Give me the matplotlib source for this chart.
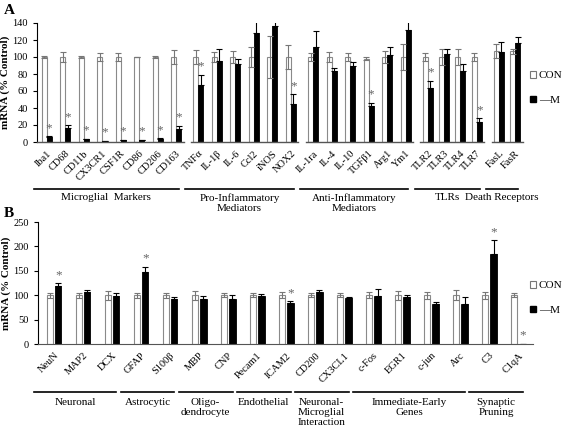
import numpy as np
import matplotlib
matplotlib.use("Agg")
import matplotlib.pyplot as plt
from matplotlib import transforms
from matplotlib.patches import Patch

plt.rcParams['font.family'] = ['Liberation Serif', 'DejaVu Serif']

# ---- panel A data
genes_a = ["Iba1", "CD68", "CD11b", "CX3CR1", "CSF1R", "CD86", "CD206", "CD163",
           "TNFα", "IL-1β", "IL-6", "Ccl2", "iNOS", "NOX2",
           "IL-1ra", "IL-4", "IL-10", "TGFβ1", "Arg1", "Ym1",
           "TLR2", "TLR3", "TLR4", "TLR7",
           "FasL", "FasR"]
groups_a = ["Microglial  Markers", "Pro-Inflammatory\nMediators", "Anti-Inflammatory\nMediators",
            "TLRs", "Death Receptors"]
group_sizes_a = [8, 6, 6, 4, 2]
con_a = [100, 100, 100, 100, 100, 100, 100, 100,
         100, 100, 100, 100, 100, 100,
         100, 100, 100, 98, 100, 100,
         100, 100, 100, 100,
         107, 107]
con_err_a = [1, 6, 1, 5, 5, 0.5, 1, 8,
             8, 6, 7, 12, 25, 14,
             5, 6, 5, 2, 7, 15,
             5, 9, 9, 5,
             8, 3]
m_a = [6, 17, 3, 1, 2, 2, 4, 15,
       67, 95, 92, 128, 136, 45,
       112, 83, 90, 42, 102, 132,
       64, 104, 83, 24,
       106, 116]
m_err_a = [0.5, 3, 1, 0.3, 0.5, 0.5, 0.5, 4,
           12, 14, 6, 28, 29, 11,
           19, 4, 4, 4, 10, 31,
           8, 5, 9, 4,
           12, 7]
sig_a = ["Iba1", "CD68", "CD11b", "CX3CR1", "CSF1R", "CD86", "CD206", "CD163",
         "TNFα", "NOX2", "TGFβ1", "TLR2", "TLR7"]

# ---- panel B data
genes_b = ["NeuN", "MAP2", "DCX", "GFAP", "S100β", "MBP", "CNP", "Pecam1", "ICAM2",
           "CD200", "CX3CL1", "c-Fos", "EGR1", "c-jun", "Arc", "C3", "C1qA"]
groups_b = ["Neuronal", "Astrocytic", "Oligo-\ndendrocyte", "Endothelial",
            "Neuronal-\nMicroglial\nInteraction", "Immediate-Early\nGenes", "Synaptic\nPruning"]
group_sizes_b = [3, 2, 2, 2, 2, 4, 2]
con_b = [100] * 17
con_err_b = [5, 5, 9, 5, 5, 9, 3.5, 3.5, 6, 4, 3.5, 6, 9, 7.5, 10, 7.5, 4]
m_b = [119, 107, 98, 148, 92, 92, 92, 98, 83, 106, 94, 99, 97, 81, 81, 184, 1]
m_err_b = [5, 4, 6, 10, 5, 6, 8, 4, 5, 5, 3, 14, 4, 5.5, 16, 29, 0]
sig_b = ["NeuN", "GFAP", "ICAM2", "C3", "C1qA"]

W, H = 567, 434
fig = plt.figure(figsize=(W / 100, H / 100), dpi=100)


def positions(sizes, scales, gap):
    pos = []
    for n, s in zip(sizes, scales):
        x = (pos[-1] + gap) if pos else 0
        for j in range(n):
            pos.append(x + j * s)
    return np.array(pos)


def draw_panel(ax, pos, genes, con, con_err, m, m_err, sig, width, off, fs_tick):
    ax.bar(pos - off, con, width, color='white', edgecolor='#8a8a8a', linewidth=0.8,
           yerr=con_err, error_kw=dict(ecolor='#777777', elinewidth=0.8, capsize=2.5, capthick=0.8),
           zorder=2)
    ax.bar(pos + off, m, width, color='black', edgecolor='black', linewidth=0.6,
           yerr=[np.zeros(len(m)), m_err], error_kw=dict(ecolor='black', elinewidth=0.8, capsize=2.5, capthick=0.8),
           zorder=2)
    for g, x, v, e in zip(genes, pos, m, m_err):
        if g in sig:
            ax.annotate('*', xy=(x + off, v + e), xytext=(0, 1.5), textcoords='offset points',
                        ha='center', va='bottom', color='#666666', fontsize=9.5)
    ax.set_xticks(pos)
    ax.set_xticklabels(genes, rotation=45, ha='right', rotation_mode='anchor', fontsize=fs_tick)
    ax.tick_params(axis='x', length=0, pad=5)
    ax.tick_params(axis='y', labelsize=7.5, length=3, width=0.8, direction='out')
    for s in ['top', 'right']:
        ax.spines[s].set_visible(False)
    ax.spines['left'].set_linewidth(0.8)
    ax.set_ylabel('mRNA (% Control)', fontsize=8, fontweight='bold', labelpad=2)


def draw_groups(ax, pos, sizes, names, y_line, y_text):
    tr = transforms.blended_transform_factory(ax.transData, fig.transFigure)
    i = 0
    for n, name in zip(sizes, names):
        x0, x1 = pos[i] - 0.7, pos[i + n - 1] + 0.15
        ax.plot([x0, x1], [y_line, y_line], color='black', lw=1.2, transform=tr, clip_on=False)
        ax.text((x0 + x1) / 2, y_text, name, transform=tr, ha='center', va='top',
                fontsize=8, linespacing=1.15)
        i += n


# ---- panel A
pos_a = positions(group_sizes_a, [1, 1, 1, 0.88, 0.88], 1.2)
ax_a = fig.add_axes([37 / W, 1 - 142 / H, (523 - 37) / W, 119 / H])
draw_panel(ax_a, pos_a, genes_a, con_a, con_err_a, m_a, m_err_a, sig_a, 0.27, 0.135, 7.5)
ax_a.set_ylim(0, 140)
ax_a.set_yticks(np.arange(0, 141, 20))
ax_a.set_xlim(-0.52, pos_a[-1] + 0.42)
ax_a.spines['bottom'].set_visible(False)
# broken baseline, one piece per gene group
i = 0
for n in group_sizes_a:
    x0 = -0.52 if i == 0 else pos_a[i] - 0.4
    ax_a.plot([x0, pos_a[i + n - 1] + 0.4], [0, 0], color='#555555', lw=1.0, clip_on=False, zorder=3)
    i += n
draw_groups(ax_a, pos_a, group_sizes_a, groups_a, 1 - 189 / H, 1 - 193 / H)

# ---- panel B
pos_b = np.arange(len(genes_b), dtype=float)
ax_b = fig.add_axes([38 / W, 1 - 344 / H, (533 - 38) / W, 122 / H])
draw_panel(ax_b, pos_b, genes_b, con_b, con_err_b, m_b, m_err_b, sig_b, 0.22, 0.145, 7.5)
ax_b.set_ylim(0, 250)
ax_b.set_yticks(np.arange(0, 251, 50))
ax_b.set_xlim(-0.55, 16.5)
ax_b.spines['bottom'].set_color('#555555')
draw_groups(ax_b, pos_b, group_sizes_b, groups_b, 1 - 392 / H, 1 - 398 / H)

# legends
handles = [Patch(facecolor='white', edgecolor='#777777', linewidth=0.8, label='CON'),
           Patch(facecolor='black', edgecolor='black', label='—M')]
for yc in [1 - 88 / H, 1 - 298 / H]:
    fig.legend(handles=handles, loc='center left', bbox_to_anchor=(530 / W, yc), frameon=False,
               fontsize=8, handlelength=0.55, handleheight=0.55, handletextpad=0.25, labelspacing=1.4,
               borderpad=0, borderaxespad=0)

fig.text(4 / W, 1 - 10 / H, 'A', fontsize=11, fontweight='bold', va='center')
fig.text(4 / W, 1 - 213 / H, 'B', fontsize=11, fontweight='bold', va='center')

fig.savefig('out.png', dpi=100)
